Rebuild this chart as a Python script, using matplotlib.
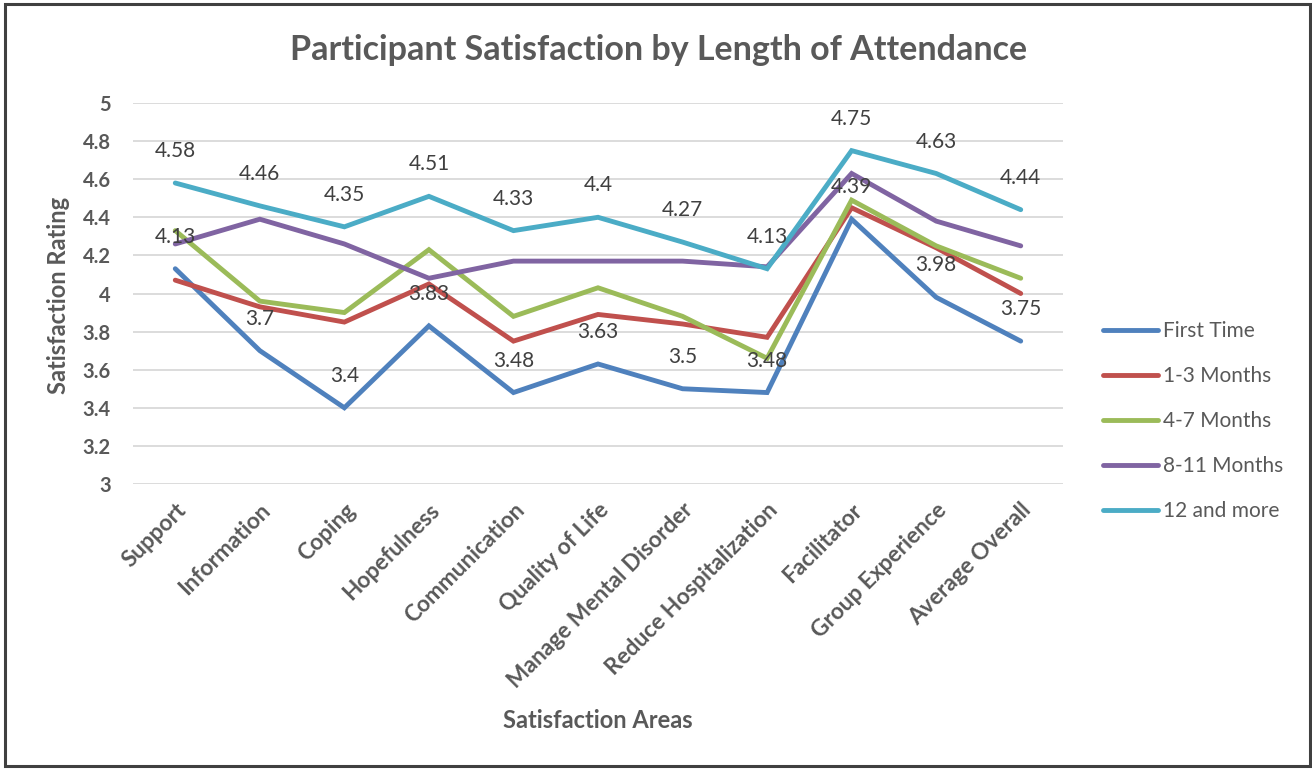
import matplotlib
matplotlib.use("Agg")
import matplotlib.pyplot as plt
from matplotlib.patches import Rectangle

plt.rcParams['font.family'] = ['Lato', 'DejaVu Sans']

categories = ["Support", "Information", "Coping", "Hopefulness", "Communication",
              "Quality of Life", "Manage Mental Disorder", "Reduce Hospitalization",
              "Facilitator", "Group Experience", "Average Overall"]

first_time = [4.13, 3.70, 3.40, 3.83, 3.48, 3.63, 3.50, 3.48, 4.39, 3.98, 3.75]
months_1_3 = [4.07, 3.93, 3.85, 4.05, 3.75, 3.89, 3.84, 3.77, 4.45, 4.24, 4.00]
months_4_7 = [4.33, 3.96, 3.90, 4.23, 3.88, 4.03, 3.88, 3.66, 4.49, 4.25, 4.08]
months_8_11 = [4.26, 4.39, 4.26, 4.08, 4.17, 4.17, 4.17, 4.14, 4.63, 4.38, 4.25]
months_12_plus = [4.58, 4.46, 4.35, 4.51, 4.33, 4.40, 4.27, 4.13, 4.75, 4.63, 4.44]

series_names = ["First Time", "1-3 Months", "4-7 Months", "8-11 Months", "12 and more"]
series_values = [first_time, months_1_3, months_4_7, months_8_11, months_12_plus]
series_colors = ["#4F81BD", "#C0504D", "#9BBB59", "#8064A2", "#4BACC6"]
labeled_series = ["First Time", "12 and more"]

y_ticks = [3, 3.2, 3.4, 3.6, 3.8, 4, 4.2, 4.4, 4.6, 4.8, 5]
y_tick_labels = ["3", "3.2", "3.4", "3.6", "3.8", "4", "4.2", "4.4", "4.6", "4.8", "5"]

W, H = 1312, 770
fig = plt.figure(figsize=(W / 100, H / 100), dpi=100)
ax = fig.add_axes([133 / W, 1 - 484 / H, (1063 - 133) / W, (484 - 103) / H])

text_col = "#595959"
x = list(range(len(categories)))

for name, vals, col in zip(series_names, series_values, series_colors):
    ax.plot(x, vals, color=col, lw=3.5, solid_capstyle='round', solid_joinstyle='miter',
            label=name, zorder=3)
    if name in labeled_series:
        for xi, v in zip(x, vals):
            ax.annotate(f"{v:g}", (xi, v), xytext=(0, 23), textcoords='offset points',
                        ha='center', va='center', fontsize=15, color="#404040", zorder=5)

ax.set_xlim(-0.5, len(categories) - 0.5)
ax.set_ylim(3, 5)
ax.set_yticks(y_ticks)
ax.set_yticklabels(y_tick_labels, fontsize=14.5, fontweight='bold', color=text_col)
ax.set_xticks(x)
ax.set_xticklabels(categories, rotation=45, ha='right', rotation_mode='anchor',
                   fontsize=16.3, fontweight='bold', color=text_col)
ax.tick_params(axis='y', length=0, pad=16)
ax.tick_params(axis='x', length=0, pad=11)
ax.grid(axis='y', color="#D9D9D9", lw=1.3, zorder=0)
for s in ax.spines.values():
    s.set_visible(False)

fig.text(58 / W, 1 - 295 / H, "Satisfaction Rating", rotation=90, ha='center', va='center',
         fontsize=17, fontweight='bold', color=text_col)
fig.text(598 / W, 1 - 720 / H, "Satisfaction Areas", ha='center', va='center',
         fontsize=17, fontweight='bold', color=text_col)
fig.text(659 / W, 1 - 50 / H, "Participant Satisfaction by Length of Attendance",
         ha='center', va='center', fontsize=24.5, fontweight='bold', color=text_col)

leg = ax.legend(loc='center left', bbox_to_anchor=(1103 / W, 1 - 421 / H),
                bbox_transform=fig.transFigure, frameon=False, fontsize=15,
                handlelength=2.65, handletextpad=0.25, labelspacing=1.2,
                borderpad=0, borderaxespad=0)
for t in leg.get_texts():
    t.set_color(text_col)

fig.patches.append(Rectangle((5 / W, 4 / H), (1310 - 5) / W, (766 - 4) / H,
                             transform=fig.transFigure, fill=False,
                             edgecolor="#404040", lw=2.2))

fig.savefig("out.png", dpi=100, facecolor='white')
